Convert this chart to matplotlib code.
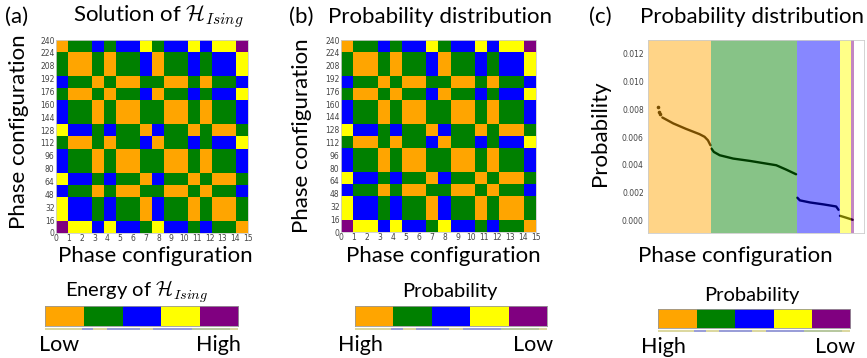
#------------------------------------------------------------------
# Import as ...
#
import matplotlib
matplotlib.use( 'Agg' )
from matplotlib import pyplot as plt
from matplotlib.colors import ListedColormap
import numpy as np

#------------------------------------------------------------------
# Data.
#
# Colour codes: O=orange, G=green, B=blue, Y=yellow, P=purple.
level_codes = [ 'O', 'G', 'B', 'Y', 'P' ]
level_colors = [ 'orange', 'green', 'blue', 'yellow', 'purple' ]

# Rows from top (240) to bottom (0), 16 columns each.
grid_rows = [
    'OGGBGBBYGBBYBYYP',  # 240
    'GOOGOGGBOGGBGBBY',  # 224
    'GOOGOGGBOGGBGBBY',  # 208
    'BGGOGOOGGOOGOGGB',  # 192
    'GOOGOGGBOGGBGBBY',  # 176
    'BGGOGOOGGOOGOGGB',  # 160
    'BGGOGOOGGOOGOGGB',  # 144
    'YBBGBGGOBGGOGOOG',  # 128
    'GOOGOGGBOGGBGBBY',  # 112
    'BGGOGOOGGOOGOGGB',  # 96
    'BGGOGOOGGOOGOGGB',  # 80
    'YBBGBGGOBGGOGOOG',  # 64
    'BGGOGOOGGOOGOGGB',  # 48
    'YBBGBGGOBGGOGOOG',  # 32
    'YBBGBGGOBGGOGOOG',  # 16
    'PYYBYBBGYBBGBGGO',  # 0
]
x_tick_labels = [ str( i ) for i in range( 16 ) ]
y_tick_labels = [ str( 16 * i ) for i in range( 16 ) ]

# Panel (c): sorted probabilities, one list per colour band.
outlier_x = [ 12.0, 13.0, 14.6 ]
outlier_y = [ 0.0082, 0.0078, 0.00766 ]
band_x = [
    [ 17, 30, 45, 61, 67, 71, 74 ],
    [ 75.2, 78, 85, 101, 121, 140, 152, 164, 175.5 ],
    [ 177, 180, 192, 208, 223, 225.8 ],
    [ 227.5, 235.5, 242.6 ],
]
band_y = [
    [ 0.00742, 0.00699, 0.0066, 0.00622, 0.00603, 0.00578, 0.00542 ],
    [ 0.00518, 0.00494, 0.0047, 0.00446, 0.00429, 0.0041, 0.00398, 0.00366, 0.00333 ],
    [ 0.00164, 0.00145, 0.0013, 0.00116, 0.00101, 0.00077 ],
    [ 0.00034, 0.00019, 0.00005 ],
]
band_edges = [ 0, 74.5, 176, 227, 241, 244 ]
prob_ticks = [ 0.000, 0.002, 0.004, 0.006, 0.008, 0.010, 0.012 ]

#------------------------------------------------------------------
# Figure and helpers (positions in pixels of the 867x358 picture).
#
W, H = 867, 358
plt.rcParams[ 'font.family' ] = [ 'Lato', 'DejaVu Sans' ]
plt.rcParams[ 'mathtext.fontset' ] = 'cm'
fig = plt.figure( figsize = ( W / 100, H / 100 ), dpi = 100 )

def px_axes( l, t, r, b ):
    return fig.add_axes( [ l / W, 1 - b / H, ( r - l ) / W, ( b - t ) / H ] )

def px_text( x, y, s, **kw ):
    kw.setdefault( 'va', 'center' )
    kw.setdefault( 'ha', 'center' )
    return fig.text( x / W, 1 - y / H, s, **kw )

cmap = ListedColormap( level_colors )
grid = np.array( [ [ level_codes.index( c ) for c in row ] for row in grid_rows ] )
tick_font = dict( family = 'DejaVu Sans', size = 5.5, color = '#444444' )
big = 16
mid = 14.5
low_high = 15.5

#------------------------------------------------------------------
# Panels (a) and (b): heatmaps.
#
def heatmap( rect ):
    ax = px_axes( *rect )
    ax.imshow( grid, cmap = cmap, vmin = -0.5, vmax = 4.5, aspect = 'auto',
               interpolation = 'nearest', extent = ( 0, 15, 0, 240 ) )
    ax.set_xticks( range( 16 ) )
    ax.set_xticklabels( x_tick_labels, **tick_font )
    ax.set_yticks( range( 0, 256, 16 ) )
    ax.set_yticklabels( y_tick_labels, **tick_font )
    ax.tick_params( length = 0, pad = 1 )
    for s in ax.spines.values():
        s.set_color( '#cccccc' )
        s.set_linewidth( 0.6 )
    return ax

heatmap( ( 56, 40, 248, 233 ) )
heatmap( ( 341, 40, 536, 232 ) )

#------------------------------------------------------------------
# Panel (c): probability distribution.
#
axc = px_axes( 648, 40, 864, 233 )
axc.scatter( outlier_x, outlier_y, s = 2.5, color = 'black', zorder = 1 )
for xs, ys in zip( band_x, band_y ):
    axc.plot( xs, ys, color = 'black', lw = 1.7, solid_capstyle = 'round', zorder = 1 )
for i in range( len( band_edges ) - 1 ):
    axc.axvspan( band_edges[ i ], band_edges[ i + 1 ], color = level_colors[ i ],
                 alpha = 0.47, lw = 0, zorder = 2 )
axc.set_xlim( 0, 256 )
axc.set_ylim( -0.0009, 0.013 )
axc.set_xticks( [] )
axc.set_yticks( prob_ticks )
axc.set_yticklabels( [ f'{v:.3f}' for v in prob_ticks ], **tick_font )
axc.tick_params( length = 0, pad = 3 )
for s in axc.spines.values():
    s.set_color( '#cccccc' )
    s.set_linewidth( 0.6 )

#------------------------------------------------------------------
# Colour legends under each panel.
#
stripe_colors = [ '#dcd8a0', '#9a9ed8', '#dcd8a0', '#9a9ed8', '#dcd8a0', '#9a9ed8', '#b8c8a0', '#dcd8a0' ]
stripe_widths = [ 19, 6, 7, 17, 7, 20, 20, 4 ]

def legend_bar( l, t, r, b ):
    ax = px_axes( l, t, r, b )
    ax.imshow( [ list( range( 5 ) ) ], cmap = cmap, vmin = -0.5, vmax = 4.5,
               aspect = 'auto', interpolation = 'nearest', extent = ( 0, 5, 0, 1 ) )
    ax.set_xticks( [] )
    ax.set_yticks( [] )
    for s in ax.spines.values():
        s.set_color( '#999999' )
        s.set_linewidth( 0.6 )
    st = px_axes( l, b + 2, r, b + 4 )
    st.barh( 0, stripe_widths, left = np.cumsum( [ 0 ] + stripe_widths[ :-1 ] ),
             color = stripe_colors, height = 1 )
    st.set_xlim( 0, sum( stripe_widths ) )
    st.set_ylim( -0.5, 0.5 )
    st.axis( 'off' )

legend_bar( 45, 306, 238, 326 )
legend_bar( 355, 306, 547, 326 )
legend_bar( 658, 309, 850, 328 )

#------------------------------------------------------------------
# Texts.
#
px_text( 17, 17, '(a)', size = big )
px_text( 158, 17, r'Solution of $\mathcal{H}_{Ising}$', size = big )
px_text( 301, 17, '(b)', size = big )
px_text( 440, 17, 'Probability distribution', size = big )
px_text( 600, 17, '(c)', size = big )
px_text( 752, 17, 'Probability distribution', size = big )

px_text( 19, 132, 'Phase configuration', size = big, rotation = 90 )
px_text( 302, 136, 'Phase configuration', size = big, rotation = 90 )
px_text( 600, 133, 'Probability', size = big, rotation = 90 )

px_text( 155, 256, 'Phase configuration', size = big )
px_text( 443, 256, 'Phase configuration', size = big )
px_text( 735, 256, 'Phase configuration', size = big )

px_text( 137, 292, r'Energy of $\mathcal{H}_{Ising}$', size = mid )
px_text( 450, 292, 'Probability', size = mid )
px_text( 752, 296, 'Probability', size = mid )

px_text( 39, 345, 'Low', size = low_high, ha = 'left' )
px_text( 241, 345, 'High', size = low_high, ha = 'right' )
px_text( 338, 345, 'High', size = low_high, ha = 'left' )
px_text( 553, 345, 'Low', size = low_high, ha = 'right' )
px_text( 641, 347, 'High', size = low_high, ha = 'left' )
px_text( 855, 347, 'Low', size = low_high, ha = 'right' )

fig.savefig( 'out.png', dpi = 100 )
